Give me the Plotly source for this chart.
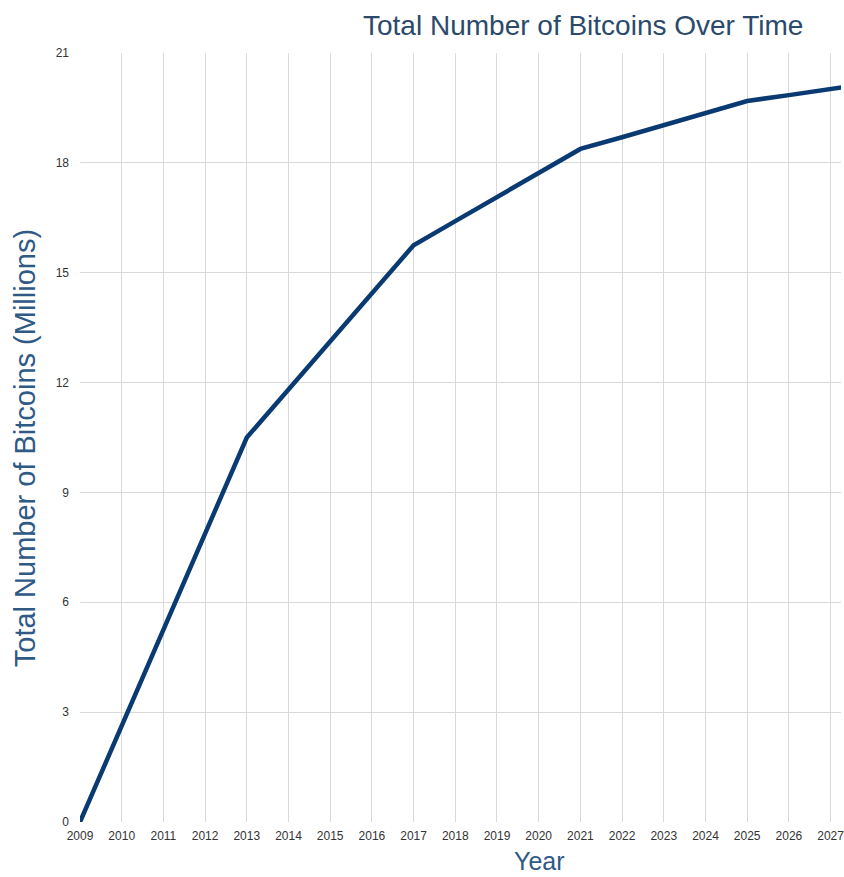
import plotly.graph_objects as go

years = list(range(2009, 2029))
bitcoins_millions = [0, 2.62, 5.25, 7.88, 10.5, 11.81, 13.13, 14.44, 15.75,
                     16.41, 17.06, 17.72, 18.38, 18.70, 19.03, 19.36, 19.69,
                     19.85, 20.02, 20.18]
x_ticks = list(range(2009, 2028))
y_ticks = [0, 3, 6, 9, 12, 15, 18, 21]

fig = go.Figure()
fig.add_trace(go.Scatter(
    x=years, y=bitcoins_millions, mode="lines",
    line=dict(color="#0a3a72", width=4.5),
    showlegend=False, hoverinfo="skip"
))

fig.update_layout(
    width=844, height=877,
    margin=dict(l=80, r=0, t=53, b=55),
    paper_bgcolor="white", plot_bgcolor="white",
    title=dict(text="Total Number of Bitcoins Over Time",
               font=dict(family="Liberation Sans, Arial", size=28, color="#2b4a6b"),
               x=0.691, xanchor="center", y=0.9715, yanchor="middle"),
    font=dict(family="Liberation Sans, Arial", size=12, color="#333333"),
    annotations=[
        dict(text="Year", xref="paper", yref="paper", x=0.6034, y=-0.0501,
             xanchor="center", yanchor="middle", showarrow=False, borderpad=0,
             font=dict(size=25, color="#2e5a85")),
        dict(text="Total Number of Bitcoins (Millions)", xref="paper", yref="paper",
             x=-0.072, y=0.4863, xanchor="center", yanchor="middle",
             textangle=-90, showarrow=False,
             font=dict(size=29, color="#2e5a85")),
    ],
)
fig.update_xaxes(
    range=[2009, 2027.25], tickmode="array", tickvals=x_ticks,
    ticktext=[str(y) for y in x_ticks],
    showgrid=True, gridcolor="#d9d9d9", gridwidth=1.2,
    zeroline=False, showline=False, ticks="", ticklen=0,
    ticklabelstandoff=5, ticklabeloverflow="allow",
    tickfont=dict(size=12, color="#333333"),
)
fig.update_yaxes(
    range=[0, 21], tickmode="array", tickvals=y_ticks,
    showgrid=True, gridcolor="#d9d9d9", gridwidth=1.2,
    zeroline=False, showline=False, ticks="", ticklen=0,
    ticklabelstandoff=10,
    tickfont=dict(size=12, color="#333333"),
)

fig.write_html(
    "out.html",
    config={"displayModeBar": False},
    post_script="document.body.style.margin='0';document.body.style.overflow='hidden';",
)
